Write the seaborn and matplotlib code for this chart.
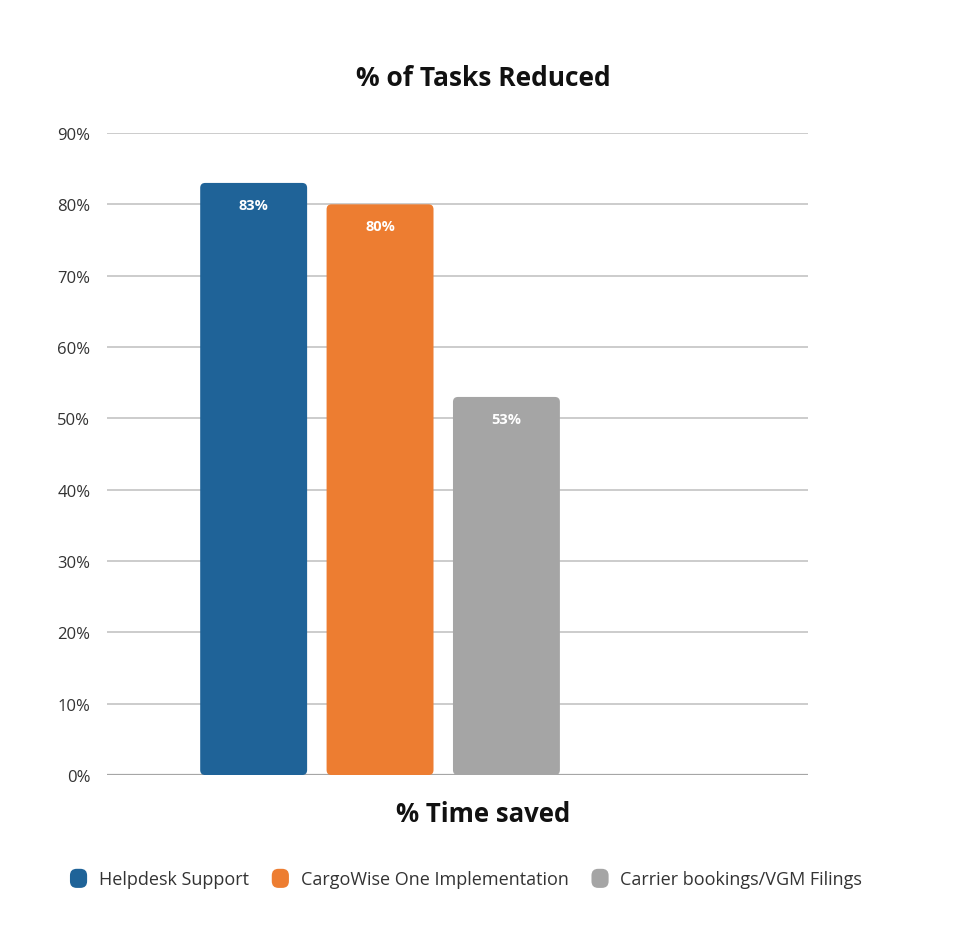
import matplotlib
matplotlib.use("Agg")
import matplotlib.pyplot as plt
import numpy as np
import pandas as pd
import seaborn as sns
from matplotlib.patches import FancyBboxPatch, Rectangle
from matplotlib.legend_handler import HandlerPatch

# data
series = ["Helpdesk Support", "CargoWise One Implementation", "Carrier bookings/VGM Filings"]
values = [83, 80, 53]
group = ["% Time saved"] * 3
colors = ["#1F6398", "#ED7D31", "#A5A5A5"]
yticks = [0, 10, 20, 30, 40, 50, 60, 70, 80, 90]

sns.set_theme(style="white")
plt.rcParams["font.family"] = ["Open Sans", "DejaVu Sans"]

df = pd.DataFrame({"group": group, "series": series, "value": values})

fig = plt.figure(figsize=(9.67, 9.53), dpi=100)
ax = fig.add_axes([0.1107, 0.1857, 0.7249, 0.6737])

sns.barplot(data=df, x="group", y="value", hue="series", palette=colors,
            saturation=1, width=0.8, gap=0.154, ax=ax, legend=False)

ax.set_xlim(-0.576, 0.903)
ax.set_ylim(0, 90)
ax.set_yticks(yticks)
ax.set_yticklabels([f"{t}%" for t in yticks], fontsize=12, color="#333333")
ax.tick_params(axis="y", length=0, pad=12)
ax.set_xticks([])
ax.set_xlabel("")
ax.set_ylabel("")
for s in ax.spines.values():
    s.set_visible(False)
for t in yticks[1:]:
    ax.axhline(t, color="#BFBFBF", lw=1.1, zorder=0)
ax.axhline(0, color="#A6A6A6", lw=1.6, zorder=0)

# value labels inside bars
for c in ax.containers:
    ax.bar_label(c, fmt="%d%%", padding=-21, color="white", fontweight="bold", fontsize=10.5)

# swap plain bars for rounded ones
fig.canvas.draw()
bbox = ax.get_window_extent()
xpp = (ax.get_xlim()[1] - ax.get_xlim()[0]) / bbox.width
ypp = (ax.get_ylim()[1] - ax.get_ylim()[0]) / bbox.height
for p in list(ax.patches):
    x, y, w, h = p.get_x(), p.get_y(), p.get_width(), p.get_height()
    fc = p.get_facecolor()
    p.remove()
    ax.add_patch(FancyBboxPatch((x, y), w, h,
                                boxstyle=f"round,pad=0,rounding_size={5 * xpp}",
                                mutation_aspect=ypp / xpp, fc=fc, ec="none", zorder=2))

fig.text(0.5, 0.918, "% of Tasks Reduced", ha="center", va="center",
         fontsize=19, fontweight="bold", color="#111111")
fig.text(0.5, 0.145, "% Time saved", ha="center", va="center",
         fontsize=18.5, fontweight="bold", color="#111111")


def rounded_handle(legend, orig_handle, xdescent, ydescent, width, height, fontsize):
    return FancyBboxPatch((-xdescent, -ydescent), width, height,
                          boxstyle=f"round,pad=0,rounding_size={height * 0.35}")


handles = [Rectangle((0, 0), 1, 1, fc=c, ec="none") for c in colors]
fig.legend(handles, series, loc="center", bbox_to_anchor=(0.482, 0.077), ncol=3,
           frameon=False, fontsize=13, handlelength=0.95, handleheight=1.25,
           handletextpad=0.65, columnspacing=1.27, labelcolor="#333333",
           handler_map={Rectangle: HandlerPatch(patch_func=rounded_handle)})

fig.savefig("out.png", dpi=100)
